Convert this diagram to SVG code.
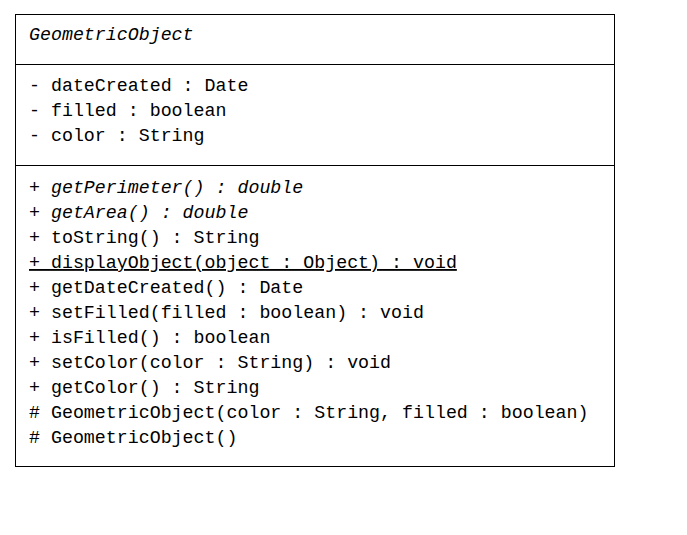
<svg xmlns="http://www.w3.org/2000/svg" width="687" height="535" viewBox="0 0 687 535">
<style>
text{font-family:"Liberation Mono","Courier New",monospace;font-size:18.3px;fill:#000;white-space:pre}
.i{font-style:italic}
.u{text-decoration:underline}
.ln{stroke:#000;stroke-width:1;fill:none}
</style>
<rect width="687" height="535" fill="#fff"/>
<g id="GeometricObject">
<rect class="ln" x="15.5" y="14.5" width="599" height="452" fill="#fff"/>
<line class="ln" x1="15" y1="64.5" x2="615" y2="64.5"/>
<line class="ln" x1="15" y1="165.5" x2="615" y2="165.5"/>
<text class="i" x="29" y="40">GeometricObject</text>
<text x="29" y="91">- dateCreated : Date</text>
<text x="29" y="116">- filled : boolean</text>
<text x="29" y="141">- color : String</text>
<text class="i" x="29" y="193">+ getPerimeter() : double</text>
<text class="i" x="29" y="218">+ getArea() : double</text>
<text x="29" y="243">+ toString() : String</text>
<text class="u" x="29" y="268">+ displayObject(object : Object) : void</text>
<text x="29" y="293">+ getDateCreated() : Date</text>
<text x="29" y="318">+ setFilled(filled : boolean) : void</text>
<text x="29" y="343">+ isFilled() : boolean</text>
<text x="29" y="368">+ setColor(color : String) : void</text>
<text x="29" y="393">+ getColor() : String</text>
<text x="29" y="418"># GeometricObject(color : String, filled : boolean)</text>
<text x="29" y="443"># GeometricObject()</text>
</g>
<g id="connectors"/>
</svg>
